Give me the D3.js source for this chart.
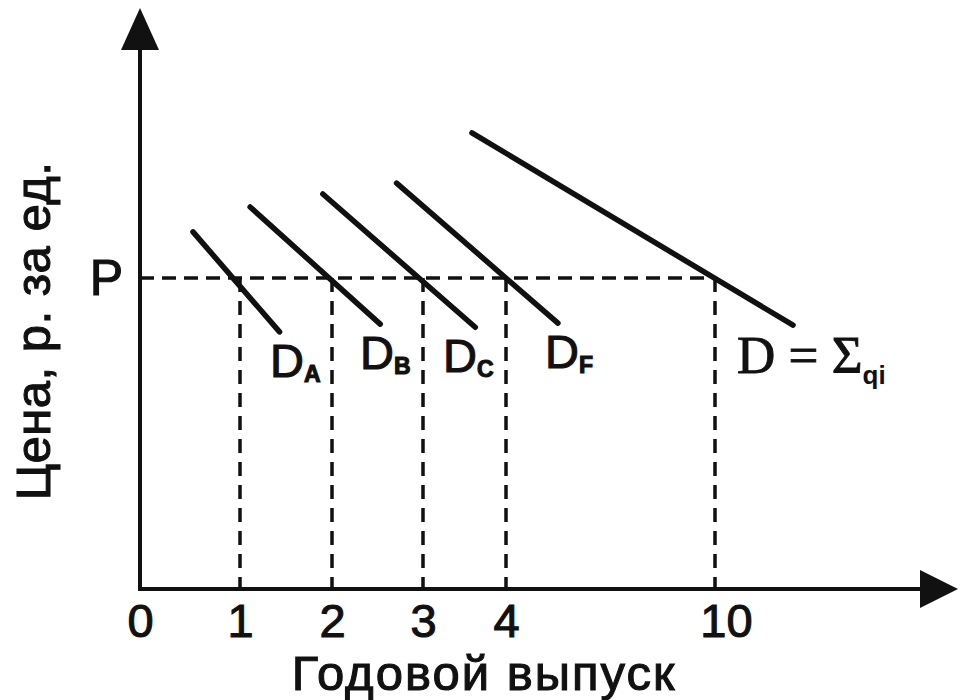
<!DOCTYPE html>
<html>
<head>
<meta charset="utf-8">
<script src="https://cdn.jsdelivr.net/npm/d3@7"></script>
<style>
  body { margin: 0; background: #fff; }
  svg text { fill: #111; }
</style>
</head>
<body>
<div id="chart"></div>
<script>
// quantities on the x axis (the scale is drawn schematically, not to size)
var quantities = [0, 1, 2, 3, 4, 10];
var tickLabels = ["0", "1", "2", "3", "4", "10"];
// market price and the quantity demanded at it
var priceP = 6;
var marketQ = [1, 2, 3, 4, 10];
// demand curves: individual firms A, B, C, F and the market sum
var curveNames = ["A", "B", "C", "F", "sum"];
var qTop = [0.53, 1.11, 1.9, 2.71, 3.59];
var pTop = [6.89, 7.37, 7.62, 7.83, 8.8];
var qBottom = [1.43, 2.53, 3.63, 5.49, 12.24];
var pBottom = [4.96, 5.11, 5.05, 5.13, 5.09];

var width = 961, height = 700;
var sans = "Liberation Sans, Arial, sans-serif";
var serif = "Liberation Serif, Times New Roman, serif";

var svg = d3
  .select("#chart")
  .append("svg")
  .attr("width", width)
  .attr("height", height);

var x = d3.scaleLinear().domain(quantities).range([140, 240, 332, 423, 506, 715]);
var y = d3.scaleLinear().domain([0, priceP]).range([589, 278]);

// dashed guides
svg.append("line")
  .attr("x1", x(0)).attr("x2", x(d3.max(marketQ)))
  .attr("y1", y(priceP)).attr("y2", y(priceP))
  .attr("stroke", "#111").attr("stroke-width", 3.5)
  .attr("stroke-dasharray", "14,8");

svg.selectAll(".vguide")
  .data(marketQ)
  .enter()
  .append("line")
  .attr("class", "vguide")
  .attr("x1", d => x(d)).attr("x2", d => x(d))
  .attr("y1", y(priceP)).attr("y2", y(0))
  .attr("stroke", "#111").attr("stroke-width", 3.5)
  .attr("stroke-dasharray", "14,9");

// demand lines
var curves = curveNames.map(function(n, i) {
  return { name: n, pts: [[qTop[i], pTop[i]], [qBottom[i], pBottom[i]]] };
});

var line = d3.line().x(d => x(d[0])).y(d => y(d[1]));

svg.selectAll(".demand")
  .data(curves)
  .enter()
  .append("path")
  .attr("class", "demand")
  .attr("d", d => line(d.pts))
  .attr("fill", "none")
  .attr("stroke", "#111")
  .attr("stroke-width", 5.5)
  .attr("stroke-linecap", "round");

// axes with arrows
var xEnd = 958, yEnd = 8;
svg.append("line")
  .attr("x1", x(0)).attr("x2", xEnd - 30)
  .attr("y1", y(0)).attr("y2", y(0))
  .attr("stroke", "#111").attr("stroke-width", 4);
svg.append("line")
  .attr("x1", x(0)).attr("x2", x(0))
  .attr("y1", y(0) + 2).attr("y2", yEnd + 30)
  .attr("stroke", "#111").attr("stroke-width", 4);
svg.append("path")
  .attr("d", "M" + xEnd + "," + y(0) + " L" + (xEnd - 38) + "," + (y(0) - 19) +
    " L" + (xEnd - 38) + "," + (y(0) + 19) + "Z")
  .attr("fill", "#111");
svg.append("path")
  .attr("d", "M" + x(0) + "," + yEnd + " L" + (x(0) - 19) + "," + (yEnd + 42) +
    " L" + (x(0) + 19) + "," + (yEnd + 42) + "Z")
  .attr("fill", "#111");

function ink(sel) {
  sel.style("font-family", sans)
    .attr("fill", "#111")
    .attr("stroke", "#111")
    .attr("stroke-width", 1.1);
}

// tick labels
var xAxis = svg.append("g")
  .attr("transform", "translate(0," + y(0) + ")")
  .call(d3.axisBottom(x).tickValues(quantities).tickSize(0).tickPadding(15)
    .tickFormat((d, i) => tickLabels[i]));
xAxis.select(".domain").remove();
xAxis.selectAll("text")
  .attr("font-size", 47)
  .attr("dx", d => d === 10 ? 11 : 0)
  .call(ink);

var yAxis = svg.append("g")
  .attr("transform", "translate(" + x(0) + ",0)")
  .call(d3.axisLeft(y).tickValues([priceP]).tickSize(0).tickPadding(17)
    .tickFormat(() => "P"));
yAxis.select(".domain").remove();
yAxis.selectAll("text")
  .attr("font-size", 50)
  .call(ink);

// axis titles
svg.append("text")
  .attr("x", 484).attr("y", 690)
  .attr("text-anchor", "middle")
  .attr("font-size", 49)
  .attr("letter-spacing", 2)
  .text("Годовой выпуск")
  .call(ink);

svg.append("text")
  .attr("transform", "translate(50,331) rotate(-90)")
  .attr("text-anchor", "middle")
  .attr("font-size", 49)
  .attr("letter-spacing", 0.5)
  .text("Цена, р. за ед.")
  .call(ink);

// curve labels, placed right of each dashed guide
var labelDx = [30, 28, 20, 39];
curveNames.slice(0, 4).forEach(function(n, i) {
  var t = svg.append("text")
    .attr("x", x(marketQ[i]) + labelDx[i])
    .attr("y", y(pBottom[i]) + 45)
    .attr("font-size", 47)
    .call(ink);
  t.append("tspan").text("D");
  t.append("tspan").attr("font-size", 23).attr("font-weight", "bold").attr("dy", 5).text(n);
});

var sumLabel = svg.append("text")
  .attr("x", x(10) + 22)
  .attr("y", y(pBottom[4]) + 48)
  .attr("font-size", 53)
  .attr("fill", "#111");
sumLabel.append("tspan")
  .style("font-family", serif)
  .attr("stroke", "#111")
  .attr("stroke-width", 0.9)
  .text("D = Σ");
sumLabel.append("tspan")
  .style("font-family", sans)
  .attr("font-weight", "bold")
  .attr("font-size", 26)
  .attr("dy", 11)
  .text("qi");
</script>
</body>
</html>
